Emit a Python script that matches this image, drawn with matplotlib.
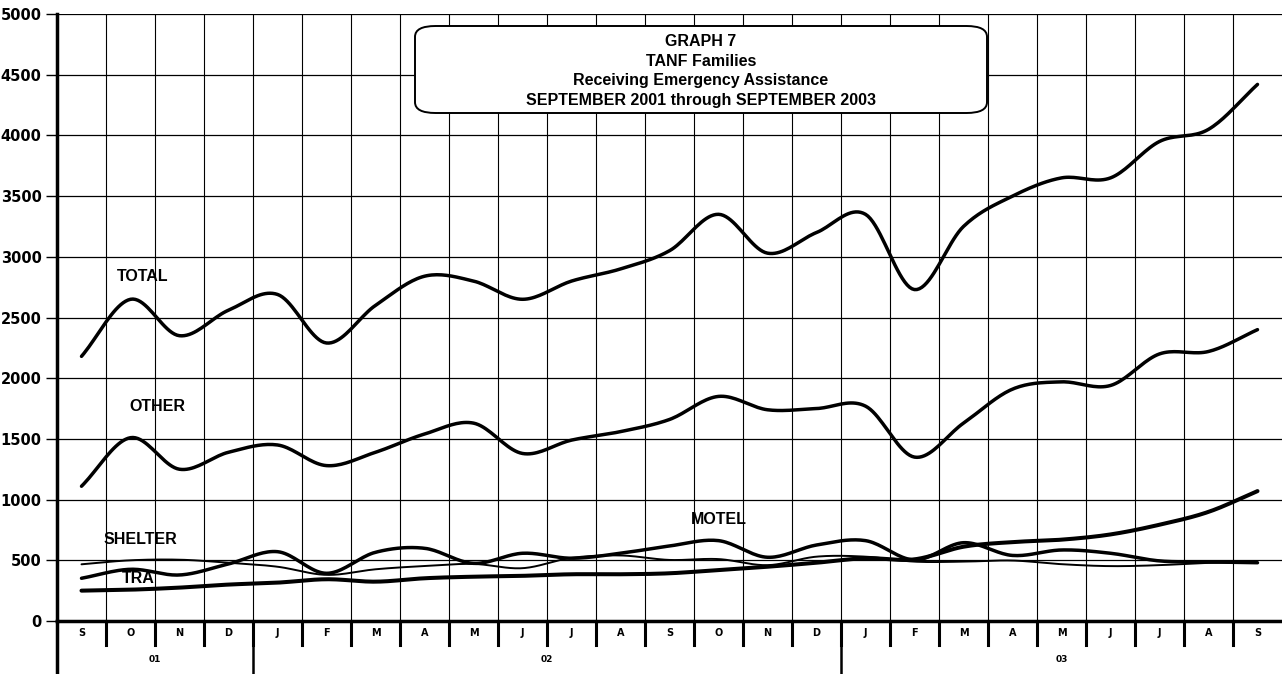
import matplotlib.pyplot as plt
import matplotlib.transforms as mtransforms
from matplotlib.patches import FancyBboxPatch
import numpy as np

plt.rcParams['font.family'] = ['Liberation Sans', 'DejaVu Sans']

months = ['S', 'O', 'N', 'D', 'J', 'F', 'M', 'A', 'M', 'J', 'J', 'A',
          'S', 'O', 'N', 'D', 'J', 'F', 'M', 'A', 'M', 'J', 'J', 'A', 'S']
years = ['01', '02', '03']
year_spans = [(0, 3), (4, 15), (16, 24)]

total = [2180, 2650, 2350, 2560, 2690, 2290, 2600, 2840, 2800, 2650, 2800, 2900,
         3050, 3350, 3030, 3200, 3350, 2730, 3250, 3500, 3650, 3650, 3950, 4050, 4420]
other = [1110, 1510, 1250, 1390, 1450, 1280, 1390, 1540, 1630, 1380, 1490, 1560,
         1660, 1850, 1740, 1750, 1770, 1350, 1630, 1910, 1970, 1940, 2200, 2220, 2400]
motel = [352, 426, 379, 470, 571, 393, 566, 599, 475, 558, 517, 558,
         618, 662, 525, 626, 662, 503, 645, 540, 585, 558, 495, 487, 480]
shelter = [467, 500, 505, 480, 447, 380, 426, 453, 470, 435, 520, 540,
           503, 510, 460, 530, 530, 489, 489, 498, 468, 452, 460, 479, 480]
tra = [250, 258, 275, 300, 316, 344, 324, 352, 365, 372, 385, 385,
       393, 420, 447, 480, 517, 508, 612, 650, 670, 713, 793, 899, 1070]

labels = [('TOTAL', 1.25, 2840), ('OTHER', 1.55, 1770), ('SHELTER', 1.2, 670),
          ('MOTEL', 13.0, 840), ('TRA', 1.15, 350)]


def smooth(y, n=20):
    # Catmull-Rom style curve through the points, like a smoothed line chart
    y = np.asarray(y, dtype=float)
    x = np.arange(len(y))
    p = np.concatenate([[2 * y[0] - y[1]], y, [2 * y[-1] - y[-2]]])
    xs, ys = [], []
    for i in range(len(y) - 1):
        t = np.linspace(0, 1, n, endpoint=False)
        p0, p1, p2, p3 = p[i], p[i + 1], p[i + 2], p[i + 3]
        yy = 0.5 * ((2 * p1) + (-p0 + p2) * t + (2 * p0 - 5 * p1 + 4 * p2 - p3) * t ** 2
                    + (-p0 + 3 * p1 - 3 * p2 + p3) * t ** 3)
        xs.append(x[i] + t)
        ys.append(yy)
    xs.append([x[-1]])
    ys.append([y[-1]])
    return np.concatenate(xs), np.concatenate(ys)


fig = plt.figure(figsize=(12.82, 6.74), dpi=100)
ax = fig.add_axes([57 / 1282, 1 - 621 / 674, 1 - 57 / 1282, (621 - 14) / 674])
ax.set_xlim(-0.5, len(months) - 0.5)
ax.set_ylim(0, 5000)

# grid
for v in range(500, 5001, 500):
    ax.axhline(v, color='black', lw=0.9, zorder=1)
for b in np.arange(0.5, len(months) - 0.5, 1):
    ax.axvline(b, color='black', lw=0.8, zorder=1)

for series, w in [(total, 2.5), (other, 2.5), (motel, 2.5), (shelter, 1.4), (tra, 2.9)]:
    xs, ys = smooth(series)
    ax.plot(xs, ys, color='black', lw=w, solid_capstyle='round', zorder=3)

for txt, x, y in labels:
    ax.text(x, y, txt, fontsize=11.5, fontweight='bold', ha='center', va='center', zorder=4)

for s in ['top', 'right']:
    ax.spines[s].set_visible(False)
ax.spines['left'].set_linewidth(2.5)
ax.spines['bottom'].set_linewidth(2.5)
ax.spines['left'].set_bounds(0, 5000)

ax.set_yticks(range(0, 5001, 500))
ax.set_yticklabels([str(v) for v in range(0, 5001, 500)], fontsize=10.5,
                   fontweight='bold', family='DejaVu Sans')
ax.tick_params(axis='y', length=8, width=1, pad=3)
ax.set_xticks([])

# month / year label rows under the axis
trans = mtransforms.blended_transform_factory(ax.transData, ax.transAxes)
row = 24 / 607
full = 53 / 607
for i, m in enumerate(months):
    ax.text(i, -row / 2, m, transform=trans, fontsize=7, fontweight='bold',
            family='DejaVu Sans', ha='center', va='center')
for b in np.arange(0.5, len(months) - 0.5, 1):
    ax.plot([b, b], [0, -row], transform=trans, color='black', lw=2.2, clip_on=False)
ax.plot([-0.5, -0.5], [0, -full], transform=trans, color='black', lw=2.5, clip_on=False)
for yl, (a, b) in zip(years, year_spans):
    ax.text((a + b) / 2, -(row + full) / 2, yl, transform=trans, fontsize=6.5,
            fontweight='bold', family='DejaVu Sans', ha='center', va='center')
    if a > 0:
        ax.plot([a - 0.5, a - 0.5], [0, -full], transform=trans, color='black', lw=1.8,
                clip_on=False)

# title box
box = FancyBboxPatch((415 / 1282, 1 - 113 / 674), (987 - 415) / 1282, (113 - 26) / 674,
                     boxstyle='round,pad=0,rounding_size=0.016', transform=fig.transFigure,
                     facecolor='white', edgecolor='black', lw=1.4, zorder=5)
fig.patches.append(box)
title_lines = ['GRAPH 7', 'TANF Families', 'Receiving Emergency Assistance',
               'SEPTEMBER 2001 through SEPTEMBER 2003']
for k, t in enumerate(title_lines):
    fig.text(701 / 1282, 1 - (42 + 19.5 * k) / 674, t, fontsize=11.5, fontweight='bold',
             ha='center', va='center', zorder=6)

fig.savefig('out.png', dpi=100)
